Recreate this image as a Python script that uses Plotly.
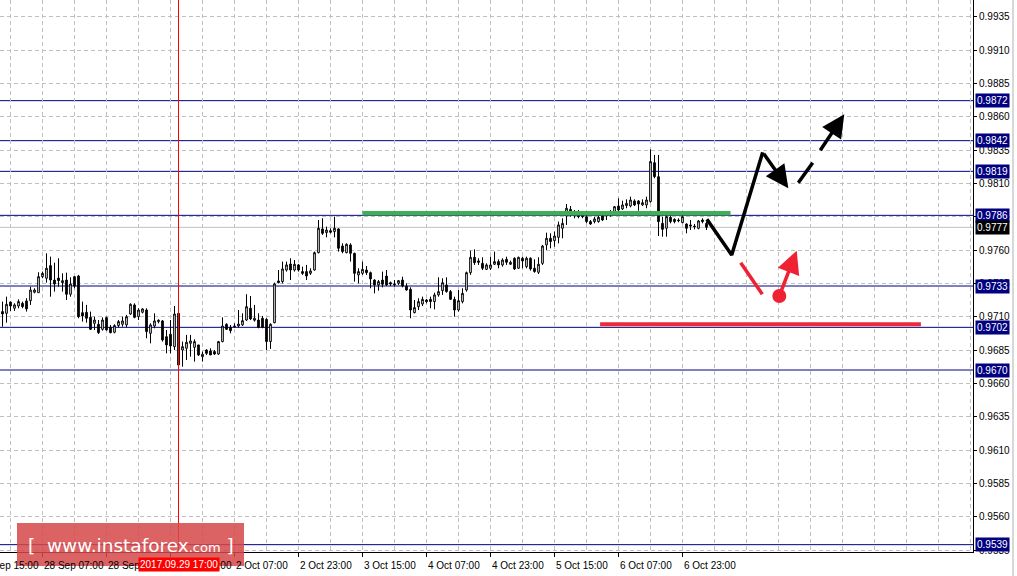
import numpy as np
import plotly.graph_objects as go

# ---------- H1 candles ----------
OPEN = [
    0.97138, 0.97125, 0.97210, 0.97163, 0.97180, 0.97200, 0.97218, 0.97220, 0.97283, 0.97280,
    0.97400, 0.97388, 0.97483, 0.97375, 0.97390, 0.97355, 0.97375, 0.97268, 0.97400, 0.97405,
    0.97130, 0.97133, 0.97095, 0.97050, 0.97043, 0.97005, 0.97093, 0.97020, 0.96983, 0.97033,
    0.97043, 0.97038, 0.97120, 0.97188, 0.97100, 0.97133, 0.97150, 0.96975, 0.97030, 0.97063,
    0.97068, 0.96950, 0.96968, 0.96875, 0.97125, 0.96850, 0.96863, 0.96900, 0.96870, 0.96888,
    0.96800, 0.96850, 0.96843, 0.96838, 0.96820, 0.96913, 0.97043, 0.97020, 0.97030, 0.97030,
    0.97038, 0.97075, 0.97163, 0.97073, 0.97075, 0.97088, 0.97080, 0.96913, 0.97055, 0.97368,
    0.97363, 0.97450, 0.97495, 0.97450, 0.97488, 0.97438, 0.97438, 0.97425, 0.97450, 0.97580,
    0.97758, 0.97730, 0.97745, 0.97738, 0.97758, 0.97630, 0.97580, 0.97638, 0.97575, 0.97413,
    0.97425, 0.97450, 0.97430, 0.97375, 0.97338, 0.97375, 0.97405, 0.97355, 0.97345, 0.97350,
    0.97375, 0.97330, 0.97305, 0.97130, 0.97175, 0.97195, 0.97225, 0.97230, 0.97213, 0.97263,
    0.97295, 0.97338, 0.97288, 0.97230, 0.97150, 0.97213, 0.97300, 0.97430, 0.97545, 0.97518,
    0.97500, 0.97455, 0.97463, 0.97493, 0.97513, 0.97488, 0.97530, 0.97493, 0.97538, 0.97463,
    0.97538, 0.97475, 0.97538, 0.97463, 0.97433, 0.97500, 0.97638, 0.97688, 0.97670, 0.97695,
    0.97763, 0.97855, 0.97905, 0.97855, 0.97870, 0.97863, 0.97850, 0.97813, 0.97813, 0.97813,
    0.97855, 0.97855, 0.97870, 0.97888, 0.97930, 0.97908, 0.97933, 0.97930, 0.97968, 0.97968,
    0.97938, 0.97938, 0.97963, 0.98255, 0.98150, 0.97800, 0.97763, 0.97845, 0.97830, 0.97825,
    0.97805, 0.97795, 0.97788, 0.97780, 0.97763, 0.97825, 0.97800,
]
HIGH = [
    0.97213, 0.97250, 0.97213, 0.97200, 0.97230, 0.97213, 0.97238, 0.97325, 0.97313, 0.97433,
    0.97438, 0.97575, 0.97550, 0.97505, 0.97538, 0.97425, 0.97430, 0.97395, 0.97405, 0.97413,
    0.97213, 0.97188, 0.97138, 0.97100, 0.97075, 0.97095, 0.97100, 0.97038, 0.97043, 0.97075,
    0.97100, 0.97113, 0.97200, 0.97200, 0.97163, 0.97163, 0.97163, 0.97050, 0.97125, 0.97080,
    0.97075, 0.97000, 0.97075, 0.97180, 0.97130, 0.96913, 0.96963, 0.96963, 0.96930, 0.96888,
    0.96838, 0.96855, 0.96863, 0.96850, 0.96918, 0.97095, 0.97050, 0.97038, 0.97050, 0.97150,
    0.97125, 0.97268, 0.97255, 0.97188, 0.97125, 0.97105, 0.97088, 0.97050, 0.97355, 0.97450,
    0.97513, 0.97513, 0.97538, 0.97525, 0.97495, 0.97475, 0.97488, 0.97463, 0.97588, 0.97825,
    0.97838, 0.97775, 0.97763, 0.97850, 0.97763, 0.97650, 0.97650, 0.97650, 0.97580, 0.97463,
    0.97513, 0.97480, 0.97438, 0.97380, 0.97375, 0.97438, 0.97450, 0.97363, 0.97375, 0.97375,
    0.97400, 0.97350, 0.97320, 0.97225, 0.97238, 0.97250, 0.97233, 0.97250, 0.97280, 0.97395,
    0.97388, 0.97395, 0.97300, 0.97250, 0.97300, 0.97313, 0.97438, 0.97595, 0.97605, 0.97538,
    0.97545, 0.97500, 0.97550, 0.97588, 0.97530, 0.97538, 0.97550, 0.97520, 0.97545, 0.97550,
    0.97550, 0.97550, 0.97545, 0.97530, 0.97545, 0.97638, 0.97730, 0.97725, 0.97738, 0.97813,
    0.97838, 0.97945, 0.97930, 0.97900, 0.97900, 0.97888, 0.97863, 0.97825, 0.97850, 0.97863,
    0.97888, 0.97888, 0.97900, 0.97930, 0.97988, 0.97970, 0.97980, 0.98000, 0.97980, 0.97975,
    0.97980, 0.98000, 0.98355, 0.98313, 0.98313, 0.97850, 0.97863, 0.97863, 0.97838, 0.97838,
    0.97870, 0.97800, 0.97825, 0.97795, 0.97825, 0.97838, 0.97813,
]
LOW = [
    0.97025, 0.97055, 0.97143, 0.97143, 0.97163, 0.97163, 0.97138, 0.97188, 0.97275, 0.97280,
    0.97388, 0.97355, 0.97250, 0.97288, 0.97325, 0.97288, 0.97225, 0.97250, 0.97313, 0.97088,
    0.97063, 0.97055, 0.97000, 0.97000, 0.96970, 0.96995, 0.96995, 0.96975, 0.96975, 0.97020,
    0.97025, 0.97020, 0.97113, 0.97088, 0.97075, 0.97125, 0.96938, 0.96900, 0.97013, 0.97050,
    0.96913, 0.96825, 0.96825, 0.96850, 0.96713, 0.96725, 0.96775, 0.96800, 0.96763, 0.96805,
    0.96763, 0.96813, 0.96813, 0.96813, 0.96813, 0.96908, 0.97000, 0.96975, 0.97020, 0.97020,
    0.97030, 0.97068, 0.97075, 0.97063, 0.97013, 0.97013, 0.96850, 0.96858, 0.97050, 0.97350,
    0.97350, 0.97438, 0.97375, 0.97438, 0.97438, 0.97413, 0.97375, 0.97413, 0.97445, 0.97575,
    0.97713, 0.97695, 0.97725, 0.97695, 0.97588, 0.97575, 0.97575, 0.97513, 0.97363, 0.97350,
    0.97413, 0.97413, 0.97313, 0.97275, 0.97295, 0.97320, 0.97330, 0.97330, 0.97325, 0.97338,
    0.97320, 0.97295, 0.97088, 0.97125, 0.97150, 0.97180, 0.97200, 0.97163, 0.97155, 0.97250,
    0.97263, 0.97280, 0.97225, 0.97100, 0.97138, 0.97200, 0.97288, 0.97413, 0.97488, 0.97488,
    0.97450, 0.97450, 0.97450, 0.97488, 0.97463, 0.97475, 0.97488, 0.97488, 0.97450, 0.97458,
    0.97463, 0.97463, 0.97445, 0.97430, 0.97420, 0.97488, 0.97600, 0.97613, 0.97625, 0.97650,
    0.97688, 0.97788, 0.97850, 0.97838, 0.97838, 0.97838, 0.97800, 0.97788, 0.97800, 0.97805,
    0.97818, 0.97825, 0.97850, 0.97875, 0.97880, 0.97900, 0.97913, 0.97920, 0.97930, 0.97895,
    0.97930, 0.97913, 0.97955, 0.98138, 0.97705, 0.97700, 0.97700, 0.97800, 0.97800, 0.97808,
    0.97800, 0.97725, 0.97750, 0.97755, 0.97755, 0.97800, 0.97750,
]
CLOSE = [
    0.97120, 0.97193, 0.97180, 0.97188, 0.97213, 0.97175, 0.97158, 0.97300, 0.97300, 0.97400,
    0.97425, 0.97463, 0.97375, 0.97345, 0.97370, 0.97370, 0.97268, 0.97345, 0.97330, 0.97100,
    0.97105, 0.97088, 0.97005, 0.97075, 0.96980, 0.97075, 0.97000, 0.96980, 0.97033, 0.97063,
    0.97068, 0.97100, 0.97193, 0.97095, 0.97150, 0.97158, 0.96988, 0.97038, 0.97068, 0.97073,
    0.96925, 0.96888, 0.96880, 0.97120, 0.96738, 0.96875, 0.96908, 0.96918, 0.96913, 0.96813,
    0.96818, 0.96825, 0.96813, 0.96820, 0.96913, 0.97030, 0.97005, 0.96995, 0.97025, 0.97045,
    0.97070, 0.97175, 0.97083, 0.97088, 0.97020, 0.97020, 0.96913, 0.97043, 0.97345, 0.97355,
    0.97458, 0.97488, 0.97450, 0.97493, 0.97450, 0.97425, 0.97405, 0.97443, 0.97580, 0.97763,
    0.97725, 0.97750, 0.97733, 0.97763, 0.97613, 0.97588, 0.97643, 0.97575, 0.97425, 0.97438,
    0.97455, 0.97430, 0.97383, 0.97338, 0.97363, 0.97343, 0.97338, 0.97345, 0.97340, 0.97370,
    0.97330, 0.97300, 0.97150, 0.97168, 0.97213, 0.97230, 0.97213, 0.97213, 0.97263, 0.97288,
    0.97355, 0.97288, 0.97230, 0.97150, 0.97220, 0.97275, 0.97430, 0.97545, 0.97505, 0.97508,
    0.97463, 0.97488, 0.97488, 0.97513, 0.97488, 0.97525, 0.97508, 0.97508, 0.97458, 0.97545,
    0.97518, 0.97538, 0.97458, 0.97438, 0.97493, 0.97630, 0.97688, 0.97663, 0.97705, 0.97788,
    0.97800, 0.97913, 0.97875, 0.97870, 0.97850, 0.97850, 0.97813, 0.97795, 0.97833, 0.97845,
    0.97825, 0.97880, 0.97888, 0.97925, 0.97900, 0.97938, 0.97950, 0.97975, 0.97938, 0.97945,
    0.97955, 0.97975, 0.98263, 0.98150, 0.97813, 0.97755, 0.97850, 0.97813, 0.97813, 0.97820,
    0.97850, 0.97763, 0.97780, 0.97775, 0.97818, 0.97813, 0.97770,
]

# time axis labels (bar index -> label); the first one sits left of the view
TICK_BARS = [10, 26, 42, 58, 74, 90, 106, 122, 138, 154, 170]
TICK_TEXT = ["28 Sep 07:00", "28 Sep 23:00", "29 Sep 15:00",
             "2 Oct 07:00", "2 Oct 23:00", "3 Oct 15:00", "4 Oct 07:00",
             "4 Oct 23:00", "5 Oct 15:00", "6 Oct 07:00", "6 Oct 23:00"]
FIRST_TEXT = "27 Sep 15:00"
CURSOR_BAR = 44
CURSOR_TEXT = "2017.09.29 17:00"

# horizontal levels and current bid
LEVELS = [0.9872, 0.9842, 0.9819, 0.9786, 0.9733, 0.9702, 0.9670, 0.9539]
BID = 0.9777

# hand-drawn forecast (bar index, price)
GREEN_X, GREEN_Y = [90, 182], [0.97875, 0.97875]
RED_X, RED_Y = [149.4, 229.6], [0.97043, 0.97043]
BLACK_PATH_X = [176.1, 182.3, 190.05]
BLACK_PATH_Y = [0.97830, 0.97563, 0.98333]
BLACK_TIP = (196.45, 0.98063)
DASH_SEG_X, DASH_SEG_Y = [198.95, 202.55], [0.98105, 0.98255]
DASH_FROM, DASH_TIP = (204.2, 0.98337), (210.45, 0.98618)
RED_SEG_X, RED_SEG_Y = [184.55, 189.95], [0.97505, 0.97268]
RED_DOT = (194.2, 0.97255)
RED_TIP = (198.55, 0.97595)

NAVY = "#000080"
GRIDC = "#c0c0c0"
FONT = "Liberation Sans"

bars = np.arange(len(OPEN))
fig = go.Figure()

fig.add_trace(go.Candlestick(
    x=bars, open=OPEN, high=HIGH, low=LOW, close=CLOSE,
    increasing=dict(line=dict(color="black", width=1), fillcolor="white"),
    decreasing=dict(line=dict(color="black", width=1), fillcolor="black"),
    whiskerwidth=0, showlegend=False, hoverinfo="skip",
))

# levels
for lv in LEVELS:
    fig.add_shape(type="line", xref="paper", x0=0, x1=1, yref="y", y0=lv, y1=lv,
                  line=dict(color=NAVY, width=1), layer="below")
fig.add_shape(type="line", xref="paper", x0=0, x1=1, yref="y", y0=BID, y1=BID,
              line=dict(color="#c0c0c0", width=1), layer="below")

# cursor line
fig.add_shape(type="line", xref="x", x0=CURSOR_BAR, x1=CURSOR_BAR, yref="paper", y0=0, y1=1,
              line=dict(color="red", width=1))

# window edge on the far right
fig.add_shape(type="line", xref="paper", x0=1013 / 973, x1=1013 / 973,
              yref="paper", y0=-24 / 552, y1=1, line=dict(color="#b0b0b0", width=1))

# green resistance / red support
fig.add_trace(go.Scatter(x=GREEN_X, y=GREEN_Y, mode="lines",
                         line=dict(color="#3fae55", width=4.5),
                         showlegend=False, hoverinfo="skip"))
fig.add_trace(go.Scatter(x=RED_X, y=RED_Y, mode="lines",
                         line=dict(color="#ee2a3a", width=4),
                         showlegend=False, hoverinfo="skip"))

# black forecast path
fig.add_trace(go.Scatter(x=BLACK_PATH_X, y=BLACK_PATH_Y, mode="lines",
                         line=dict(color="black", width=3.5),
                         showlegend=False, hoverinfo="skip"))
fig.add_trace(go.Scatter(x=DASH_SEG_X, y=DASH_SEG_Y, mode="lines",
                         line=dict(color="black", width=3.5),
                         showlegend=False, hoverinfo="skip"))
# red alternative
fig.add_trace(go.Scatter(x=RED_SEG_X, y=RED_SEG_Y, mode="lines",
                         line=dict(color="#ee2233", width=3.5),
                         showlegend=False, hoverinfo="skip"))
fig.add_trace(go.Scatter(x=[RED_DOT[0]], y=[RED_DOT[1]], mode="markers",
                         marker=dict(color="#ee2233", size=14),
                         showlegend=False, hoverinfo="skip"))


def arrow(tail, tip, color):
    fig.add_annotation(x=tip[0], y=tip[1], ax=tail[0], ay=tail[1],
                       xref="x", yref="y", axref="x", ayref="y", text="",
                       showarrow=True, arrowhead=2, arrowsize=1.3,
                       arrowwidth=3.5, arrowcolor=color, standoff=0)


arrow((BLACK_PATH_X[-1], BLACK_PATH_Y[-1]), BLACK_TIP, "black")
arrow(DASH_FROM, DASH_TIP, "black")
arrow(RED_DOT, RED_TIP, "#ee2233")

# price labels on the right
for lv in LEVELS:
    fig.add_annotation(x=1, xref="paper", xanchor="left", xshift=2,
                       y=lv, yref="y", text=f"{lv:.4f}", showarrow=False,
                       font=dict(family=FONT, size=10, color="white"),
                       bgcolor=NAVY, borderpad=1)
fig.add_annotation(x=1, xref="paper", xanchor="left", xshift=2,
                   y=BID, yref="y", text=f"{BID:.4f}", showarrow=False,
                   font=dict(family=FONT, size=10, color="white"),
                   bgcolor="black", borderpad=1)

# time labels
for b, t in zip(TICK_BARS, TICK_TEXT):
    fig.add_annotation(x=b, xref="x", xanchor="left", xshift=-1,
                       y=0, yref="paper", yanchor="top", yshift=-6,
                       text=t, showarrow=False,
                       font=dict(family=FONT, size=10, color="black"))
# partly cut-off label on the left edge (16 bars before the first one)
fig.add_annotation(x=0, xref="paper", xanchor="left", xshift=-23,
                   y=0, yref="paper", yanchor="top", yshift=-6,
                   text=FIRST_TEXT, showarrow=False,
                   font=dict(family=FONT, size=10, color="black"))
fig.add_annotation(x=CURSOR_BAR, xref="x", xanchor="center",
                   y=0, yref="paper", yanchor="top", yshift=-5,
                   text=CURSOR_TEXT, showarrow=False, bgcolor="red", borderpad=1,
                   font=dict(family=FONT, size=10, color="white"))

# watermark
fig.add_shape(type="rect", xref="paper", yref="paper",
              x0=17 / 973, x1=244 / 973, y0=-14 / 552, y1=29 / 552,
              fillcolor="rgba(214,72,72,0.85)", line=dict(width=0))
fig.add_annotation(x=131 / 973, xref="paper", xanchor="center",
                   y=7 / 552, yref="paper", yanchor="middle",
                   text="[  www.instaforex<span style='font-size:13px'>.com</span> ]",
                   showarrow=False,
                   font=dict(family="DejaVu Sans", size=18.5, color="white"))

fig.update_xaxes(
    range=[-0.625, 242.625], showline=True, linecolor="black", linewidth=1,
    tickvals=TICK_BARS, showticklabels=False, ticks="outside", ticklen=4,
    tickcolor="black", showgrid=True, gridcolor=GRIDC, griddash="4px,3px",
    minor=dict(tick0=2, dtick=8, showgrid=True, gridcolor=GRIDC, griddash="4px,3px"),
    rangeslider=dict(visible=False), zeroline=False, fixedrange=True,
)
fig.update_yaxes(
    range=[0.95335, 0.99475], side="right", tick0=0.9535, dtick=0.0025,
    tickformat=".4f", showline=True, linecolor="black", linewidth=1,
    ticks="outside", ticklen=3, tickcolor="black",
    tickfont=dict(family=FONT, size=10, color="black"),
    showgrid=True, gridcolor=GRIDC, griddash="4px,3px", zeroline=False,
)
fig.update_layout(
    width=1017, height=576, margin=dict(l=0, r=44, t=0, b=24),
    paper_bgcolor="white", plot_bgcolor="white", boxgap=0.4,
    showlegend=False,
)

fig.write_html("out.html", config={"displayModeBar": False},
               post_script="document.body.style.margin='0';")
